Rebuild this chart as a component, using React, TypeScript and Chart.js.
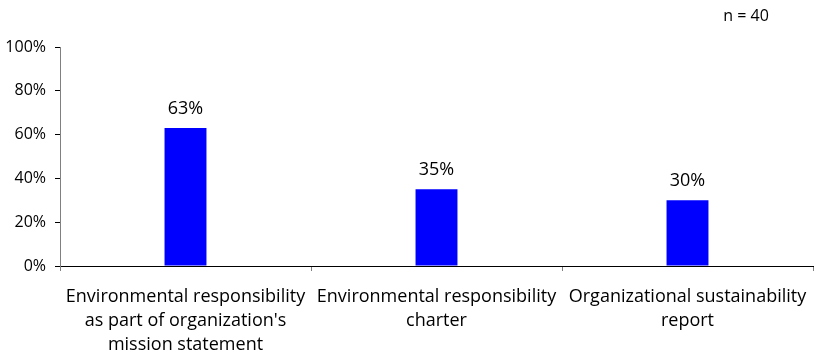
import React, { useEffect, useRef } from "react";
import { Chart, registerables } from "chart.js";

Chart.register(...registerables);

const categories: string[][] = [
  ["Environmental responsibility", "as part of organization's", "mission statement"],
  ["Environmental responsibility", "charter"],
  ["Organizational sustainability", "report"],
];
const values: number[] = [63, 35, 30];
const yTicks: number[] = [0, 20, 40, 60, 80, 100];
const sampleNote = "n = 40";

const FONT = "'Open Sans', sans-serif";

const labelPlugin = {
  id: "valueLabels",
  afterDatasetsDraw(chart: any) {
    const ctx = chart.ctx;
    const meta = chart.getDatasetMeta(0);
    ctx.save();
    ctx.font = `18px ${FONT}`;
    ctx.fillStyle = "#000";
    ctx.textAlign = "center";
    ctx.textBaseline = "middle";
    meta.data.forEach((el: any, i: number) => {
      ctx.fillText(`${values[i]}%`, el.x, el.y - 19);
    });
    ctx.font = `16px ${FONT}`;
    ctx.fillText(sampleNote, 746, 16);
    ctx.restore();
  },
};

export default function App() {
  const ref = useRef<HTMLCanvasElement>(null);
  useEffect(() => {
    document.body.style.margin = "0";
    const chart = new Chart(ref.current!, {
      type: "bar",
      data: {
        labels: categories,
        datasets: [
          {
            data: values,
            backgroundColor: "#0000FF",
            borderWidth: 0,
            categoryPercentage: 1,
            barPercentage: 0.167,
          },
        ],
      },
      options: {
        responsive: false,
        animation: false,
        layout: { padding: { top: 47, right: 4, left: 0, bottom: 0 } },
        plugins: { legend: { display: false }, tooltip: { enabled: false } },
        scales: {
          x: {
            grid: {
              offset: true,
              drawOnChartArea: false,
              drawTicks: true,
              tickLength: 5,
              color: "#808080",
            },
            border: { color: "#000", width: 1 },
            ticks: {
              color: "#000",
              font: { family: FONT, size: 18, lineHeight: 1.34 },
              padding: 14,
              maxRotation: 0,
              autoSkip: false,
            },
            afterFit(scale: any) {
              scale.height = 92;
              scale.paddingLeft = 0;
              scale.paddingRight = 0;
            },
          },
          y: {
            min: 0,
            max: 100,
            grid: { drawOnChartArea: false, drawTicks: true, tickLength: 5, color: "#000" },
            border: { color: "#808080", width: 1 },
            afterBuildTicks(scale: any) {
              scale.ticks = yTicks.map((v) => ({ value: v }));
            },
            ticks: {
              color: "#000",
              font: { family: FONT, size: 16 },
              padding: 9,
              callback: (v: any) => `${v}%`,
            },
            afterFit(scale: any) {
              scale.width = 60;
            },
          },
        },
      },
      plugins: [labelPlugin],
    });
    return () => chart.destroy();
  }, []);
  return (
    <div style={{ width: 817, height: 358 }}>
      <canvas ref={ref} width={817} height={358} />
    </div>
  );
}
